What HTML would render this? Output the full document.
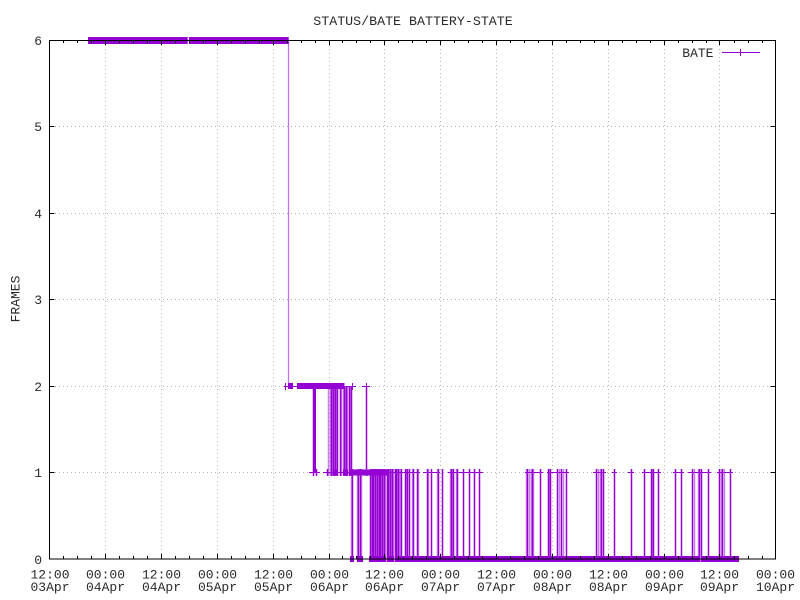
<!DOCTYPE html>
<html>
<head>
<meta charset="utf-8">
<style>
html,body{margin:0;padding:0;background:#fff;}
svg{display:block;}
text{font-family:"Liberation Mono","DejaVu Sans Mono",monospace;fill:#2a2a2a;}
</style>
</head>
<body>
<svg width="800" height="600" viewBox="0 0 800 600" xmlns="http://www.w3.org/2000/svg">
<rect width="800" height="600" fill="#fff"/>

<!-- grid -->
<g stroke="#b4b4b4" stroke-width="1" stroke-dasharray="1,3" fill="none">
<path d="M105.5 45V554M161.5 45V554M217.5 45V554M273.5 45V554M329.5 45V554M384.5 45V554M440.5 45V554M496.5 45V554M552.5 45V554M608.5 45V554M664.5 45V554M719.5 45V554"/>
<path d="M55 126.5H770M55 213.5H770M55 299.5H770M55 386.5H770M55 472.5H770"/>
</g>

<!-- data -->
<g fill="#9400d3">
<rect x="88" y="37" width="99.7" height="7"/>
<rect x="189" y="37" width="99.7" height="7"/>
<rect x="288" y="383" width="5" height="6"/>
<rect x="297" y="383" width="47.5" height="6"/>
<rect x="313" y="386" width="3" height="86"/>
<rect x="333" y="469.5" width="5" height="6"/>
<rect x="343" y="469.5" width="5" height="6"/>
<rect x="350" y="469.5" width="37" height="6"/>
<rect x="350" y="556" width="4" height="6"/>
<rect x="357" y="556" width="6" height="6"/>
<rect x="369" y="556" width="17" height="6"/>
<rect x="387" y="556" width="7" height="6"/>
<rect x="395" y="556" width="305" height="6"/>
<rect x="701" y="556" width="38" height="6"/>
</g>
<g stroke="#9400d3" fill="none" stroke-width="1.5">
<path d="M288.5 40V386" stroke-opacity=".55" stroke-width="1.3"/>
<!-- horizontal thin lines -->
<path stroke-width="1" d="M284 386.5H356M362 386.5H370"/>
<path stroke-width="1" d="M309 472.5H320M323 472.5H420M423 472.5H440M448 472.5H483M525 472.5H543M547 472.5H569M593 472.5H606M612 472.5H617M628 472.5H634M642 472.5H661M673 472.5H684M688 472.5H711M717 472.5H733"/>
<!-- plus markers at 2 -->
<path stroke-width="1" d="M285.5 383V390M352.5 383V390M366.5 383V390"/>
<!-- verticals 2 -> 1 dark -->
<path d="M331.5 386V476M333.5 386V476M335.5 386V476M337.5 386V476M340.5 386V476M344.5 386V476M346.5 386V476M349.5 386V476M351.5 386V476M366.5 386V476M313.5 386V476M316.5 469V476M327.5 469V476"/>
<!-- verticals 2 -> 1 light -->
<path stroke-opacity=".5" d="M314.5 386V472M328.5 386V476M330.5 386V476M332.5 386V476M334.5 386V476M336.5 386V476M341.5 386V476M343.5 386V476M345.5 386V476M347.5 386V476M350.5 386V476"/>
<!-- verticals 1 -> 0 dense dark -->
<path d="M352.5 469V562M358.5 469V562M360.5 469V562M370.5 469V562M372.5 469V562M373.5 469V562M375.5 469V562M377.5 469V562M379.5 469V562M380.5 469V562M382.5 469V562M384.5 469V562M387.5 469V562M388.5 469V562M390.5 469V562M392.5 469V562M395.5 469V562M396.5 469V562M398.5 469V562M401.5 469V562M405.5 469V562M407.5 469V562M409.5 469V562M413.5 469V562M417.5 469V562"/>
<path stroke-opacity=".5" d="M351.5 469V562M357.5 469V562M361.5 469V562M371.5 469V562M374.5 469V562M376.5 469V562M378.5 469V562M381.5 469V562M383.5 469V562M385.5 469V562M389.5 469V562M391.5 469V562M393.5 469V562M397.5 469V562M399.5 469V562M400.5 469V562M406.5 469V562M412.5 469V562M418.5 469V562"/>
<!-- sparse spikes -->
<path d="M427.5 469V562M431.5 469V562M438.5 469V562M442.5 469V562M451.5 469V562M453.5 469V562M457.5 469V562M463.5 469V562M469.5 469V562M474.5 469V562M479.5 469V562M527.5 469V562M532.5 469V562M540.5 469V562M548.5 469V562M550.5 469V562M557.5 469V562M561.5 469V562M566.5 469V562M596.5 469V562M601.5 469V562M603.5 469V562M614.5 469V562M631.5 469V562M644.5 469V562M651.5 469V562M653.5 469V562M658.5 469V562M675.5 469V562M681.5 469V562M692.5 469V562M699.5 469V562M701.5 469V562M708.5 469V562M719.5 469V562M722.5 469V562M730.5 469V562"/>
<path stroke-opacity=".5" d="M428.5 469V562M437.5 469V562M450.5 469V562M452.5 469V562M456.5 469V562M526.5 469V562M529.5 469V562M531.5 469V562M533.5 469V562M549.5 469V562M559.5 469V562M563.5 469V562M598.5 469V562M600.5 469V562M652.5 469V562M694.5 469V562M698.5 469V562M721.5 469V562M724.5 469V562"/>
</g>

<!-- legend -->
<text x="713.5" y="57" font-size="13" text-anchor="end">BATE</text>
<path d="M722 52.5H760M740.5 49V56" stroke="#9400d3" stroke-width="1" fill="none"/>

<!-- ticks -->
<g stroke="#000" stroke-width="1" fill="none">
<path d="M105.5 559v-5M161.5 559v-5M217.5 559v-5M273.5 559v-5M329.5 559v-5M384.5 559v-5M440.5 559v-5M496.5 559v-5M552.5 559v-5M608.5 559v-5M664.5 559v-5M719.5 559v-5"/>
<path d="M105.5 40v5M161.5 40v5M217.5 40v5M273.5 40v5M329.5 40v5M384.5 40v5M440.5 40v5M496.5 40v5M552.5 40v5M608.5 40v5M664.5 40v5M719.5 40v5"/>
<path d="M63.5 559v-3M77.5 559v-3M91.5 559v-3M119.5 559v-3M133.5 559v-3M147.5 559v-3M175.5 559v-3M189.5 559v-3M203.5 559v-3M231.5 559v-3M245.5 559v-3M259.5 559v-3M287.5 559v-3M301.5 559v-3M315.5 559v-3M342.5 559v-3M356.5 559v-3M370.5 559v-3M398.5 559v-3M412.5 559v-3M426.5 559v-3M454.5 559v-3M468.5 559v-3M482.5 559v-3M510.5 559v-3M524.5 559v-3M538.5 559v-3M566.5 559v-3M580.5 559v-3M594.5 559v-3M622.5 559v-3M636.5 559v-3M650.5 559v-3M678.5 559v-3M692.5 559v-3M706.5 559v-3M734.5 559v-3M748.5 559v-3M762.5 559v-3"/>
<path d="M63.5 40v3M77.5 40v3M91.5 40v3M119.5 40v3M133.5 40v3M147.5 40v3M175.5 40v3M189.5 40v3M203.5 40v3M231.5 40v3M245.5 40v3M259.5 40v3M287.5 40v3M301.5 40v3M315.5 40v3M342.5 40v3M356.5 40v3M370.5 40v3M398.5 40v3M412.5 40v3M426.5 40v3M454.5 40v3M468.5 40v3M482.5 40v3M510.5 40v3M524.5 40v3M538.5 40v3M566.5 40v3M580.5 40v3M594.5 40v3M622.5 40v3M636.5 40v3M650.5 40v3M678.5 40v3M692.5 40v3M706.5 40v3M734.5 40v3M748.5 40v3M762.5 40v3"/>
<path d="M49.5 126.5h5M49.5 213.5h5M49.5 299.5h5M49.5 386.5h5M49.5 472.5h5"/>
<path d="M775.5 126.5h-5M775.5 213.5h-5M775.5 299.5h-5M775.5 386.5h-5M775.5 472.5h-5"/>
<!-- border -->
<rect x="49.5" y="40.5" width="726" height="518.5"/>
</g>

<!-- y labels -->
<g font-size="13" text-anchor="end">
<text x="42" y="45">6</text>
<text x="42" y="131">5</text>
<text x="42" y="218">4</text>
<text x="42" y="304">3</text>
<text x="42" y="391">2</text>
<text x="42" y="477">1</text>
<text x="42" y="564">0</text>
</g>

<!-- x labels -->
<g font-size="13" text-anchor="middle">
<text x="50" y="578.5">12:00</text><text x="50" y="591">03Apr</text>
<text x="105.5" y="578.5">00:00</text><text x="105.5" y="591">04Apr</text>
<text x="161.5" y="578.5">12:00</text><text x="161.5" y="591">04Apr</text>
<text x="217.5" y="578.5">00:00</text><text x="217.5" y="591">05Apr</text>
<text x="273.5" y="578.5">12:00</text><text x="273.5" y="591">05Apr</text>
<text x="329.5" y="578.5">00:00</text><text x="329.5" y="591">06Apr</text>
<text x="384.5" y="578.5">12:00</text><text x="384.5" y="591">06Apr</text>
<text x="440.5" y="578.5">00:00</text><text x="440.5" y="591">07Apr</text>
<text x="496.5" y="578.5">12:00</text><text x="496.5" y="591">07Apr</text>
<text x="552.5" y="578.5">00:00</text><text x="552.5" y="591">08Apr</text>
<text x="608.5" y="578.5">12:00</text><text x="608.5" y="591">08Apr</text>
<text x="664.5" y="578.5">00:00</text><text x="664.5" y="591">09Apr</text>
<text x="719.5" y="578.5">12:00</text><text x="719.5" y="591">09Apr</text>
<text x="775.5" y="578.5">00:00</text><text x="775.5" y="591">10Apr</text>
</g>

<!-- title -->
<text x="413" y="25" font-size="13.3" text-anchor="middle">STATUS/BATE BATTERY-STATE</text>

<!-- y axis label -->
<text x="0" y="0" font-size="13" text-anchor="middle" transform="translate(19.5,299) rotate(-90)">FRAMES</text>
</svg>
</body>
</html>
